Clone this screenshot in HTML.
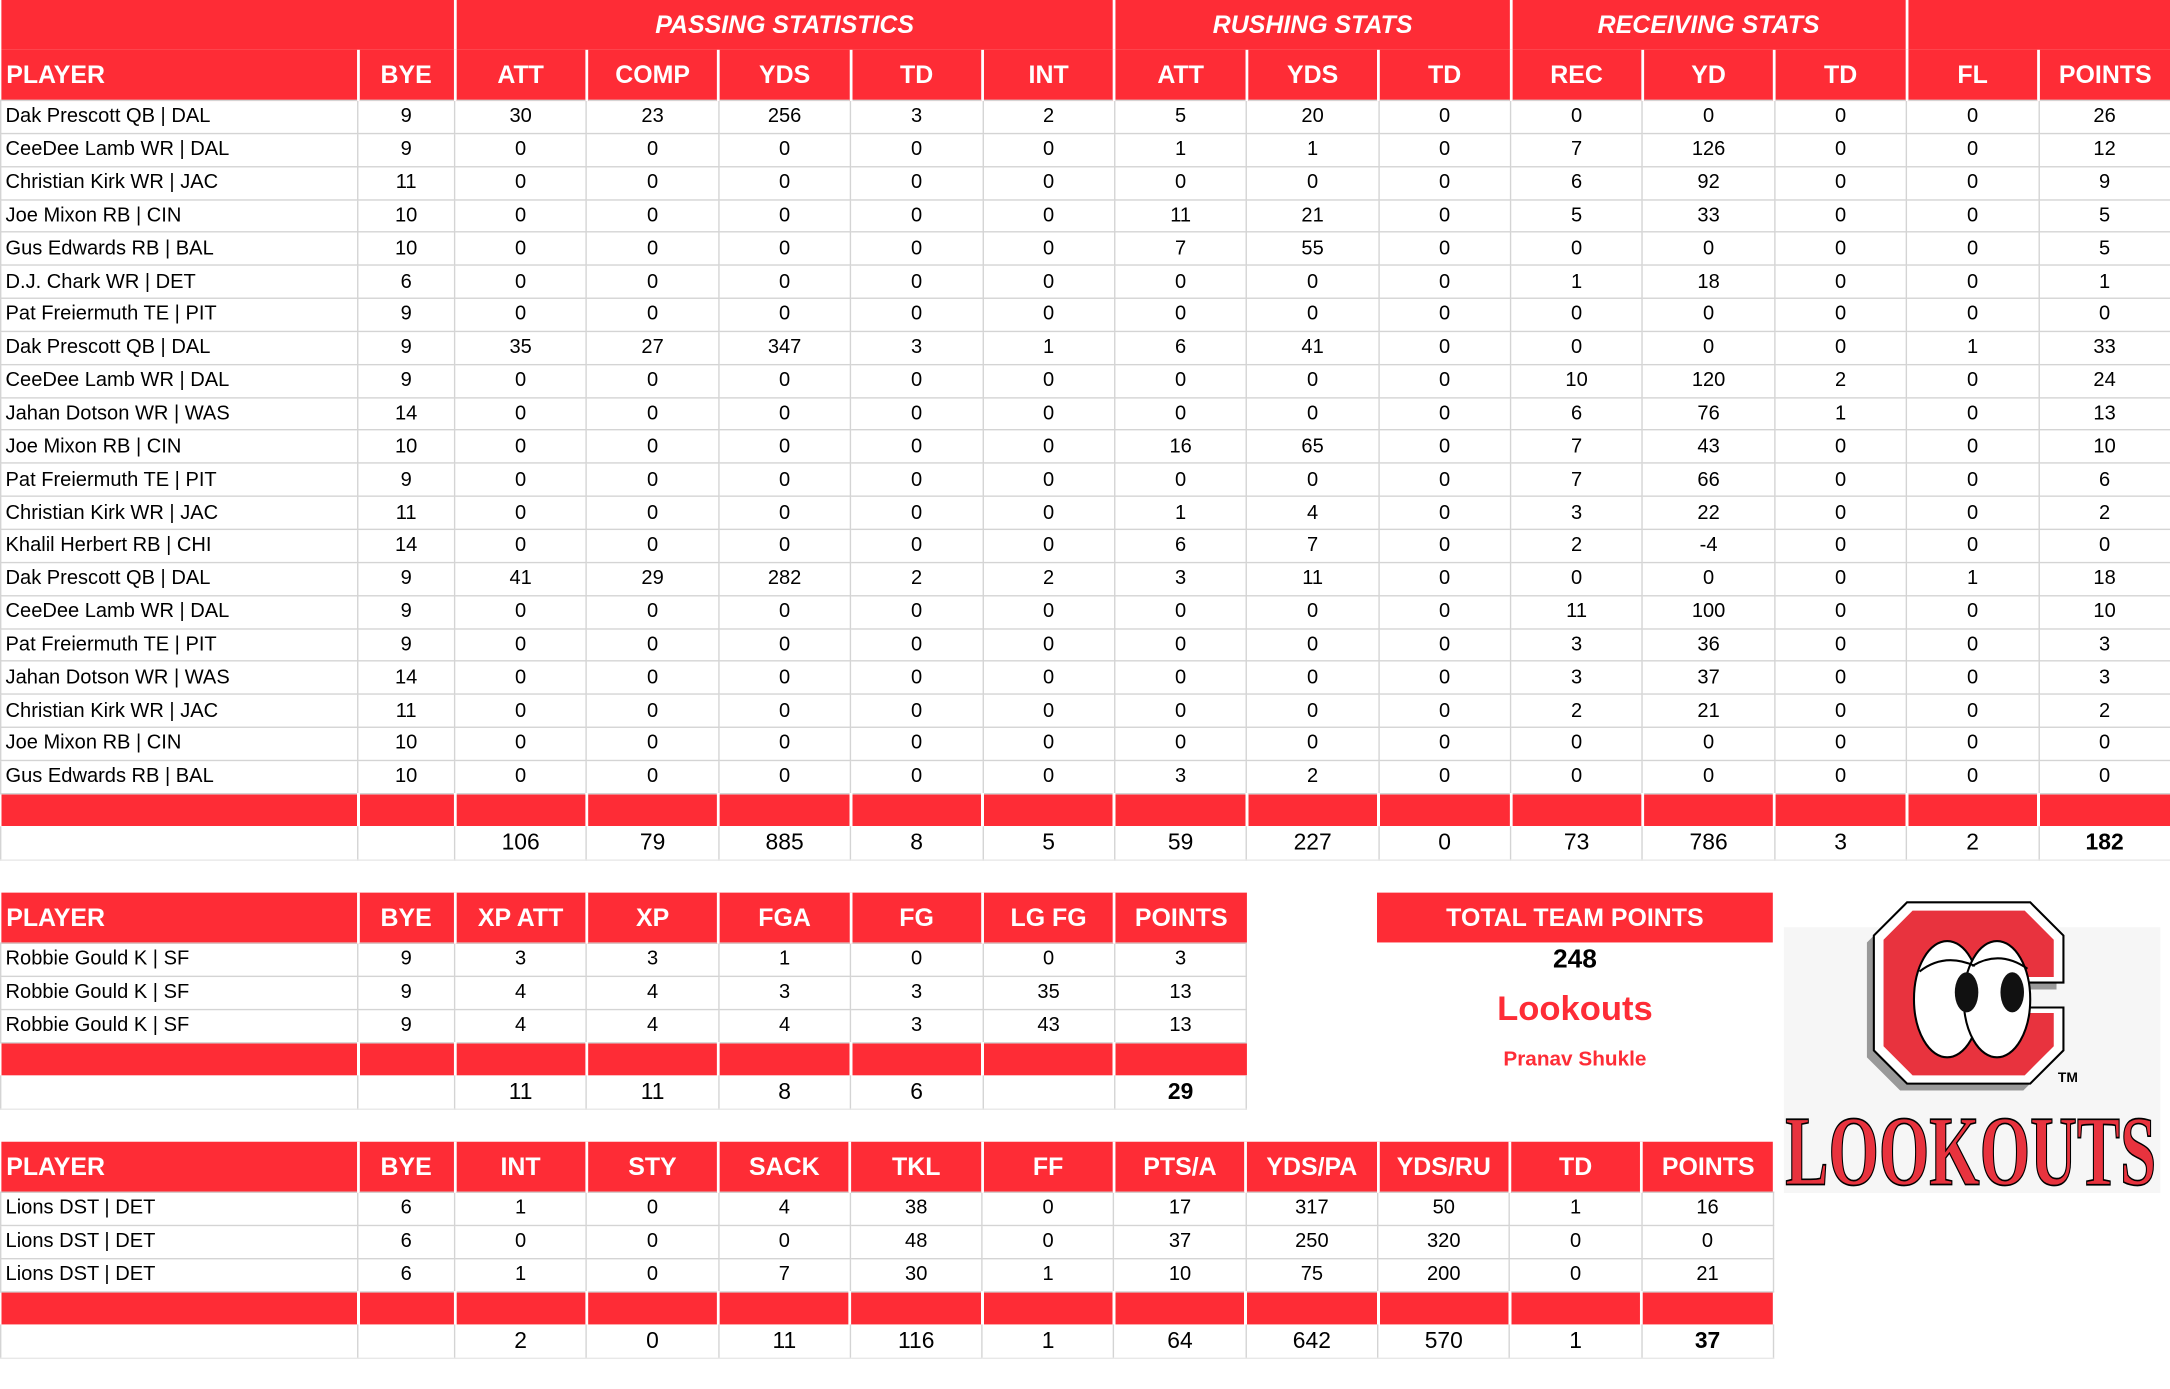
<!DOCTYPE html>
<html><head><meta charset="utf-8">
<style>
html,body{margin:0;padding:0;background:#fff;width:2170px;height:1389px;overflow:hidden}
#w{position:absolute;left:0;top:0;width:1568px;height:1004px;transform:scale(1.38393);transform-origin:0 0;font-family:"Liberation Sans Narrow","Liberation Sans",sans-serif}
table{position:absolute;left:0;border-collapse:collapse;table-layout:fixed}
td{padding:0;text-align:center;font-size:14.5px;border:1px solid #d4d4d4;color:#000;white-space:nowrap;overflow:hidden;height:22.85px;line-height:20px}
td.p{text-align:left;padding-left:3px}
th{background:#fe2c36;color:#fff;font-weight:bold;font-size:18px;padding:0;border-left:2px solid #fff;height:36px;white-space:nowrap}
th.l{text-align:left;padding-left:4px;border-left:none}
th.g{font-style:italic;font-size:18px;border-left:2px solid #fff}
tr.band td{background:#fe2c36;height:23px;border:none;border-left:2px solid #fff}
tr.band td:first-child{border-left:none}
tr.tot td{height:24px;font-size:16.5px;border-top:none;border-bottom:1px solid #e8e8e8}
b{font-weight:bold}
.x{position:absolute;text-align:center;font-family:"Liberation Sans",sans-serif;font-weight:bold}
</style></head><body><div id="w">
<table style="top:0;width:1568px">
<colgroup><col style="width:258px"><col style="width:70px"><col span="13" style="width:95.38px"></colgroup>
<tr><th colspan="2" style="border-left:none"></th><th class="g" colspan="5">PASSING STATISTICS</th><th class="g" colspan="3">RUSHING STATS</th><th class="g" colspan="3">RECEIVING STATS</th><th colspan="2"></th></tr>
<tr><th class="l">PLAYER</th><th>BYE</th><th>ATT</th><th>COMP</th><th>YDS</th><th>TD</th><th>INT</th><th>ATT</th><th>YDS</th><th>TD</th><th>REC</th><th>YD</th><th>TD</th><th>FL</th><th>POINTS</th></tr>
<tr><td class="p">Dak Prescott QB | DAL</td><td>9</td><td>30</td><td>23</td><td>256</td><td>3</td><td>2</td><td>5</td><td>20</td><td>0</td><td>0</td><td>0</td><td>0</td><td>0</td><td>26</td></tr>
<tr><td class="p">CeeDee Lamb WR | DAL</td><td>9</td><td>0</td><td>0</td><td>0</td><td>0</td><td>0</td><td>1</td><td>1</td><td>0</td><td>7</td><td>126</td><td>0</td><td>0</td><td>12</td></tr>
<tr><td class="p">Christian Kirk WR | JAC</td><td>11</td><td>0</td><td>0</td><td>0</td><td>0</td><td>0</td><td>0</td><td>0</td><td>0</td><td>6</td><td>92</td><td>0</td><td>0</td><td>9</td></tr>
<tr><td class="p">Joe Mixon RB | CIN</td><td>10</td><td>0</td><td>0</td><td>0</td><td>0</td><td>0</td><td>11</td><td>21</td><td>0</td><td>5</td><td>33</td><td>0</td><td>0</td><td>5</td></tr>
<tr><td class="p">Gus Edwards RB | BAL</td><td>10</td><td>0</td><td>0</td><td>0</td><td>0</td><td>0</td><td>7</td><td>55</td><td>0</td><td>0</td><td>0</td><td>0</td><td>0</td><td>5</td></tr>
<tr><td class="p">D.J. Chark WR | DET</td><td>6</td><td>0</td><td>0</td><td>0</td><td>0</td><td>0</td><td>0</td><td>0</td><td>0</td><td>1</td><td>18</td><td>0</td><td>0</td><td>1</td></tr>
<tr><td class="p">Pat Freiermuth TE | PIT</td><td>9</td><td>0</td><td>0</td><td>0</td><td>0</td><td>0</td><td>0</td><td>0</td><td>0</td><td>0</td><td>0</td><td>0</td><td>0</td><td>0</td></tr>
<tr><td class="p">Dak Prescott QB | DAL</td><td>9</td><td>35</td><td>27</td><td>347</td><td>3</td><td>1</td><td>6</td><td>41</td><td>0</td><td>0</td><td>0</td><td>0</td><td>1</td><td>33</td></tr>
<tr><td class="p">CeeDee Lamb WR | DAL</td><td>9</td><td>0</td><td>0</td><td>0</td><td>0</td><td>0</td><td>0</td><td>0</td><td>0</td><td>10</td><td>120</td><td>2</td><td>0</td><td>24</td></tr>
<tr><td class="p">Jahan Dotson WR | WAS</td><td>14</td><td>0</td><td>0</td><td>0</td><td>0</td><td>0</td><td>0</td><td>0</td><td>0</td><td>6</td><td>76</td><td>1</td><td>0</td><td>13</td></tr>
<tr><td class="p">Joe Mixon RB | CIN</td><td>10</td><td>0</td><td>0</td><td>0</td><td>0</td><td>0</td><td>16</td><td>65</td><td>0</td><td>7</td><td>43</td><td>0</td><td>0</td><td>10</td></tr>
<tr><td class="p">Pat Freiermuth TE | PIT</td><td>9</td><td>0</td><td>0</td><td>0</td><td>0</td><td>0</td><td>0</td><td>0</td><td>0</td><td>7</td><td>66</td><td>0</td><td>0</td><td>6</td></tr>
<tr><td class="p">Christian Kirk WR | JAC</td><td>11</td><td>0</td><td>0</td><td>0</td><td>0</td><td>0</td><td>1</td><td>4</td><td>0</td><td>3</td><td>22</td><td>0</td><td>0</td><td>2</td></tr>
<tr><td class="p">Khalil Herbert RB | CHI</td><td>14</td><td>0</td><td>0</td><td>0</td><td>0</td><td>0</td><td>6</td><td>7</td><td>0</td><td>2</td><td>-4</td><td>0</td><td>0</td><td>0</td></tr>
<tr><td class="p">Dak Prescott QB | DAL</td><td>9</td><td>41</td><td>29</td><td>282</td><td>2</td><td>2</td><td>3</td><td>11</td><td>0</td><td>0</td><td>0</td><td>0</td><td>1</td><td>18</td></tr>
<tr><td class="p">CeeDee Lamb WR | DAL</td><td>9</td><td>0</td><td>0</td><td>0</td><td>0</td><td>0</td><td>0</td><td>0</td><td>0</td><td>11</td><td>100</td><td>0</td><td>0</td><td>10</td></tr>
<tr><td class="p">Pat Freiermuth TE | PIT</td><td>9</td><td>0</td><td>0</td><td>0</td><td>0</td><td>0</td><td>0</td><td>0</td><td>0</td><td>3</td><td>36</td><td>0</td><td>0</td><td>3</td></tr>
<tr><td class="p">Jahan Dotson WR | WAS</td><td>14</td><td>0</td><td>0</td><td>0</td><td>0</td><td>0</td><td>0</td><td>0</td><td>0</td><td>3</td><td>37</td><td>0</td><td>0</td><td>3</td></tr>
<tr><td class="p">Christian Kirk WR | JAC</td><td>11</td><td>0</td><td>0</td><td>0</td><td>0</td><td>0</td><td>0</td><td>0</td><td>0</td><td>2</td><td>21</td><td>0</td><td>0</td><td>2</td></tr>
<tr><td class="p">Joe Mixon RB | CIN</td><td>10</td><td>0</td><td>0</td><td>0</td><td>0</td><td>0</td><td>0</td><td>0</td><td>0</td><td>0</td><td>0</td><td>0</td><td>0</td><td>0</td></tr>
<tr><td class="p">Gus Edwards RB | BAL</td><td>10</td><td>0</td><td>0</td><td>0</td><td>0</td><td>0</td><td>3</td><td>2</td><td>0</td><td>0</td><td>0</td><td>0</td><td>0</td><td>0</td></tr>
<tr class="band"><td></td><td></td><td></td><td></td><td></td><td></td><td></td><td></td><td></td><td></td><td></td><td></td><td></td><td></td><td></td></tr>
<tr class="tot"><td></td><td></td><td>106</td><td>79</td><td>885</td><td>8</td><td>5</td><td>59</td><td>227</td><td>0</td><td>73</td><td>786</td><td>3</td><td>2</td><td><b>182</b></td></tr>
</table>

<table style="top:645px;width:900px">
<colgroup><col style="width:258px"><col style="width:70px"><col span="6" style="width:95.38px"></colgroup>
<tr><th class="l">PLAYER</th><th>BYE</th><th>XP ATT</th><th>XP</th><th>FGA</th><th>FG</th><th>LG FG</th><th>POINTS</th></tr>
<tr><td class="p">Robbie Gould K | SF</td><td>9</td><td>3</td><td>3</td><td>1</td><td>0</td><td>0</td><td>3</td></tr>
<tr><td class="p">Robbie Gould K | SF</td><td>9</td><td>4</td><td>4</td><td>3</td><td>3</td><td>35</td><td>13</td></tr>
<tr><td class="p">Robbie Gould K | SF</td><td>9</td><td>4</td><td>4</td><td>4</td><td>3</td><td>43</td><td>13</td></tr>
<tr class="band"><td></td><td></td><td></td><td></td><td></td><td></td><td></td><td></td></tr>
<tr class="tot"><td></td><td></td><td>11</td><td>11</td><td>8</td><td>6</td><td></td><td><b>29</b></td></tr>
</table>

<table style="top:825px;width:1281px">
<colgroup><col style="width:258px"><col style="width:70px"><col span="10" style="width:95.3px"></colgroup>
<tr><th class="l">PLAYER</th><th>BYE</th><th>INT</th><th>STY</th><th>SACK</th><th>TKL</th><th>FF</th><th>PTS/A</th><th>YDS/PA</th><th>YDS/RU</th><th>TD</th><th>POINTS</th></tr>
<tr><td class="p">Lions DST | DET</td><td>6</td><td>1</td><td>0</td><td>4</td><td>38</td><td>0</td><td>17</td><td>317</td><td>50</td><td>1</td><td>16</td></tr>
<tr><td class="p">Lions DST | DET</td><td>6</td><td>0</td><td>0</td><td>0</td><td>48</td><td>0</td><td>37</td><td>250</td><td>320</td><td>0</td><td>0</td></tr>
<tr><td class="p">Lions DST | DET</td><td>6</td><td>1</td><td>0</td><td>7</td><td>30</td><td>1</td><td>10</td><td>75</td><td>200</td><td>0</td><td>21</td></tr>
<tr class="band"><td></td><td></td><td></td><td></td><td></td><td></td><td></td><td></td><td></td><td></td><td></td><td></td></tr>
<tr class="tot"><td></td><td></td><td>2</td><td>0</td><td>11</td><td>116</td><td>1</td><td>64</td><td>642</td><td>570</td><td>1</td><td><b>37</b></td></tr>
</table>

<div style="position:absolute;left:995px;top:645px;width:286px;height:36px;background:#fe2c36"></div>
<div class="x" style="left:995px;top:653px;width:286px;color:#fff;font-size:18px">TOTAL TEAM POINTS</div>
<div class="x" style="left:995px;top:683px;width:286px;color:#000;font-size:19px">248</div>
<div class="x" style="left:995px;top:715px;width:286px;color:#fe2c36;font-size:25px">Lookouts</div>
<div class="x" style="left:995px;top:757px;width:286px;color:#fe2c36;font-size:15px">Pranav Shukle</div>

<svg style="position:absolute;left:1287px;top:650px" width="275" height="215" viewBox="0 0 275 215">
<rect x="2" y="20" width="272" height="192" fill="#f6f6f6"/>
<polygon points="91,2 180,2 204,26 204,60 178,60 178,78 204,78 204,109 180,133 91,133 67,109 67,26" fill="#999" transform="translate(-5,5)"/>
<polygon points="91,2 180,2 204,26 204,60 178,60 178,78 204,78 204,109 180,133 91,133 67,109 67,26" fill="#fff" stroke="#000" stroke-width="1.5"/>
<polygon points="95,8 176,8 197,29 197,56 172,56 172,82 197,82 197,106 176,127 95,127 74,106 74,29" fill="#e8333e"/>
<ellipse cx="120" cy="72" rx="24" ry="42" fill="#fff" stroke="#000" stroke-width="1.5"/>
<ellipse cx="156" cy="72" rx="24" ry="42" fill="#fff" stroke="#000" stroke-width="1.5"/>
<path d="M100 52 Q118 38 140 48 M138 48 Q158 36 178 50" stroke="#000" stroke-width="1.5" fill="none"/>
<ellipse cx="134" cy="67" rx="8.5" ry="14.5" fill="#111"/>
<ellipse cx="167" cy="67" rx="8.5" ry="14.5" fill="#111"/>
<text x="200" y="132" font-family="Liberation Sans,sans-serif" font-weight="bold" font-size="10" fill="#000">TM</text>
<text x="137" y="206" text-anchor="middle" font-family="Liberation Serif,serif" font-weight="bold" font-size="72" fill="#e8333e" stroke="#000" stroke-width="1.2" textLength="268" lengthAdjust="spacingAndGlyphs">LOOKOUTS</text>
</svg>
</div></body></html>
